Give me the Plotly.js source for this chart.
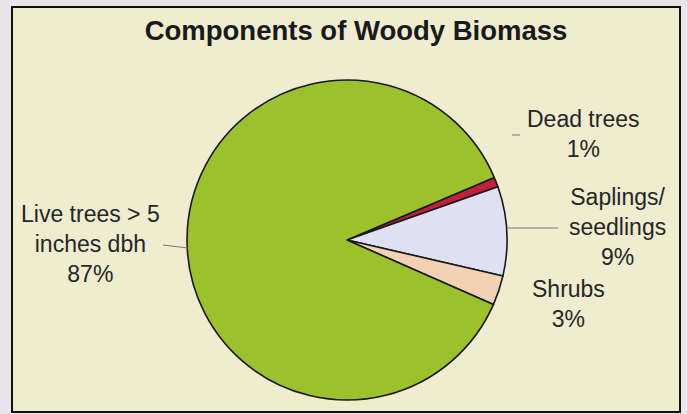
<!DOCTYPE html>
<html>
<head>
<meta charset="utf-8">
<script src="https://cdn.plot.ly/plotly-3.0.1.min.js"></script>
<style>html,body{margin:0;padding:0;background:#e9e5e9;}#chart{width:687px;height:414px;}</style>
</head>
<body>
<div id="chart"></div>
<script>
// Data
var categories = ['Dead trees', 'Saplings/<br>seedlings', 'Shrubs', 'Live trees > 5<br>inches dbh'];
var percents = [1, 9, 3, 87];
var sliceColors = ['#c21f3c', '#dfe0f1', '#f3d2b4', '#9bc12c'];
var chartTitle = 'Components of Woody Biomass';

var W = 687, H = 414;
function px(x) { return x / W; }
function py(y) { return 1 - y / H; }

// label placement (layout only)
var labelPos = [
  {x: 583, y: 134},
  {x: 617, y: 227},
  {x: 568, y: 304},
  {x: 90, y: 244}
];

var annotations = categories.map(function (c, i) {
  return {
    xref: 'paper', yref: 'paper',
    x: px(labelPos[i].x), y: py(labelPos[i].y),
    xanchor: 'center', yanchor: 'middle',
    text: c + '<br>' + percents[i] + '%',
    showarrow: false,
    align: 'center',
    font: {family: 'Liberation Sans, Arial, sans-serif', size: 23, color: '#262626'}
  };
});

var shapes = [
  {type: 'rect', xref: 'paper', yref: 'paper', layer: 'below',
   x0: px(12), x1: px(680), y0: py(412), y1: py(7),
   fillcolor: '#efecd0', line: {color: '#111', width: 2}},
  {type: 'line', xref: 'paper', yref: 'paper', x0: px(512), x1: px(520), y0: py(135), y1: py(135),
   line: {color: '#777', width: 1}},
  {type: 'line', xref: 'paper', yref: 'paper', x0: px(508), x1: px(558), y0: py(228), y1: py(228),
   line: {color: '#777', width: 1}},
  {type: 'line', xref: 'paper', yref: 'paper', x0: px(163), x1: px(188), y0: py(245), y1: py(248),
   line: {color: '#777', width: 1}}
];

var trace = {
  type: 'pie',
  labels: categories,
  values: percents,
  sort: false,
  direction: 'clockwise',
  rotation: 67,
  textinfo: 'none',
  hoverinfo: 'label+percent',
  marker: {colors: sliceColors, line: {color: '#1a1a1a', width: 1.6}},
  domain: {x: [px(187), px(507)], y: [py(400), py(80)]},
  showlegend: false
};

var layout = {
  width: W, height: H,
  margin: {l: 0, r: 0, t: 0, b: 0},
  paper_bgcolor: '#e9e5e9',
  showlegend: false,
  title: {
    text: '<b>' + chartTitle + '</b>',
    x: 356 / W, xanchor: 'center', xref: 'paper',
    y: 1 - 30 / H, yanchor: 'middle', yref: 'container',
    font: {family: 'Liberation Sans, Arial, sans-serif', size: 27.5, color: '#1a1a1a'}
  },
  annotations: annotations,
  shapes: shapes
};

Plotly.newPlot('chart', [trace], layout, {staticPlot: true, displayModeBar: false});
</script>
</body>
</html>
